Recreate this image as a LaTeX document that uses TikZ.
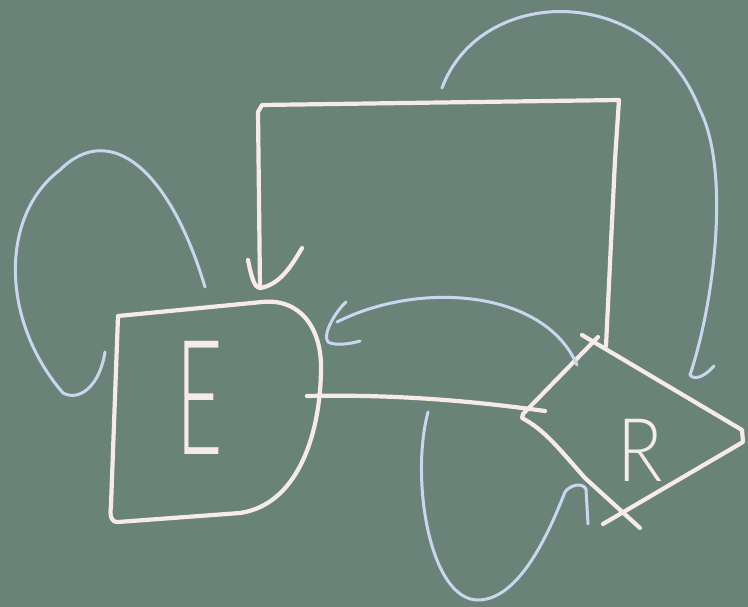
\documentclass[tikz,border=0pt]{standalone}
\usepackage{fontspec}
\usepackage{graphicx}
\newfontfamily\thinfont{Lato Light}
\definecolor{board}{RGB}{106,131,121}
\definecolor{chalk}{RGB}{246,234,234}
\definecolor{bluechalk}{RGB}{202,214,238}
\tikzset{
  wchalk/.style={draw=chalk, line width=4.2pt, line cap=round, line join=round},
  bchalk/.style={draw=bluechalk, line width=3pt, line cap=round, line join=round},
  letter/.style={text=chalk, inner sep=0pt, font=\thinfont}
}
\begin{document}
\begin{tikzpicture}[x=1pt,y=-1pt]
\fill[board] (0,0) rectangle (748,607);
\useasboundingbox (0,0) rectangle (748,607);
% labels
\node[letter] (E) at (200,398) {\scalebox{0.5}[1]{\fontsize{160}{160}\selectfont E}};
\node[letter] (R) at (640,450) {\scalebox{0.85}[1]{\fontsize{88}{88}\selectfont R}};
% named anchor points
\coordinate (Etl) at (118,316);
\coordinate (Eright) at (307,396);
\coordinate (Eent) at (260,288);
\coordinate (Eloopout) at (205,287);
\coordinate (Eloopin) at (63,393);
\coordinate (Ein) at (337,322);
\coordinate (Rleft) at (545,411);
\coordinate (Rtop) at (606,346);
\coordinate (Rout) at (577,365);
\coordinate (Rin) at (690,375);
\coordinate (Rin2) at (565,492);
\coordinate (Bout) at (442,88);
\coordinate (Dout) at (428,412);
% entity box E
\draw[wchalk] (Etl) -- (262,302) .. controls (300,298) and (322,328) .. (321,370)
  .. controls (320,440) and (295,505) .. (240,513) -- (118,522)
  .. controls (110,522) and (110,515) .. (111,505) -- (Etl);
% relation diamond R
\draw[wchalk] (582,335) -- (742,430) -- (743,442) -- (603,524);
\draw[wchalk] (598,337) -- (523,414) -- (522,418) .. controls (545,430) and (560,450) .. (585,478) -- (640,528);
% E -- R line
\draw[wchalk] (Eright) .. controls (400,394) and (480,402) .. (Rleft);
% white connector R -> E
\draw[wchalk] (Rtop) -- (615,160) -- (619,100) -- (262,105) -- (258,112) -- (Eent);
\draw[wchalk] (248,260) .. controls (252,280) and (255,288) .. (Eent) .. controls (280,285) and (292,265) .. (302,248);
% blue self loop on E
\draw[bchalk] (Eloopout) .. controls (170,170) and (110,120) .. (60,170)
  .. controls (0,215) and (0,320) .. (Eloopin);
\draw[bchalk] (Eloopin) .. controls (80,402) and (100,385) .. (105,352);
% blue R -> E
\draw[bchalk] (Rout) .. controls (545,290) and (420,280) .. (Ein);
\draw[bchalk] (346,302) .. controls (335,312) and (322,335) .. (328,342) .. controls (335,346) and (350,344) .. (360,341);
% big blue arc
\draw[bchalk] (Bout) .. controls (480,-15) and (650,-20) .. (700,110)
  .. controls (730,170) and (715,300) .. (Rin);
\draw[bchalk] (Rin) .. controls (695,381) and (705,376) .. (714,366);
% lower blue loop
\draw[bchalk] (Dout) .. controls (410,480) and (430,600) .. (478,600)
  .. controls (520,600) and (550,530) .. (Rin2);
\draw[bchalk] (Rin2) .. controls (570,485) and (582,482) .. (586,489) -- (588,524);
\end{tikzpicture}
\end{document}
